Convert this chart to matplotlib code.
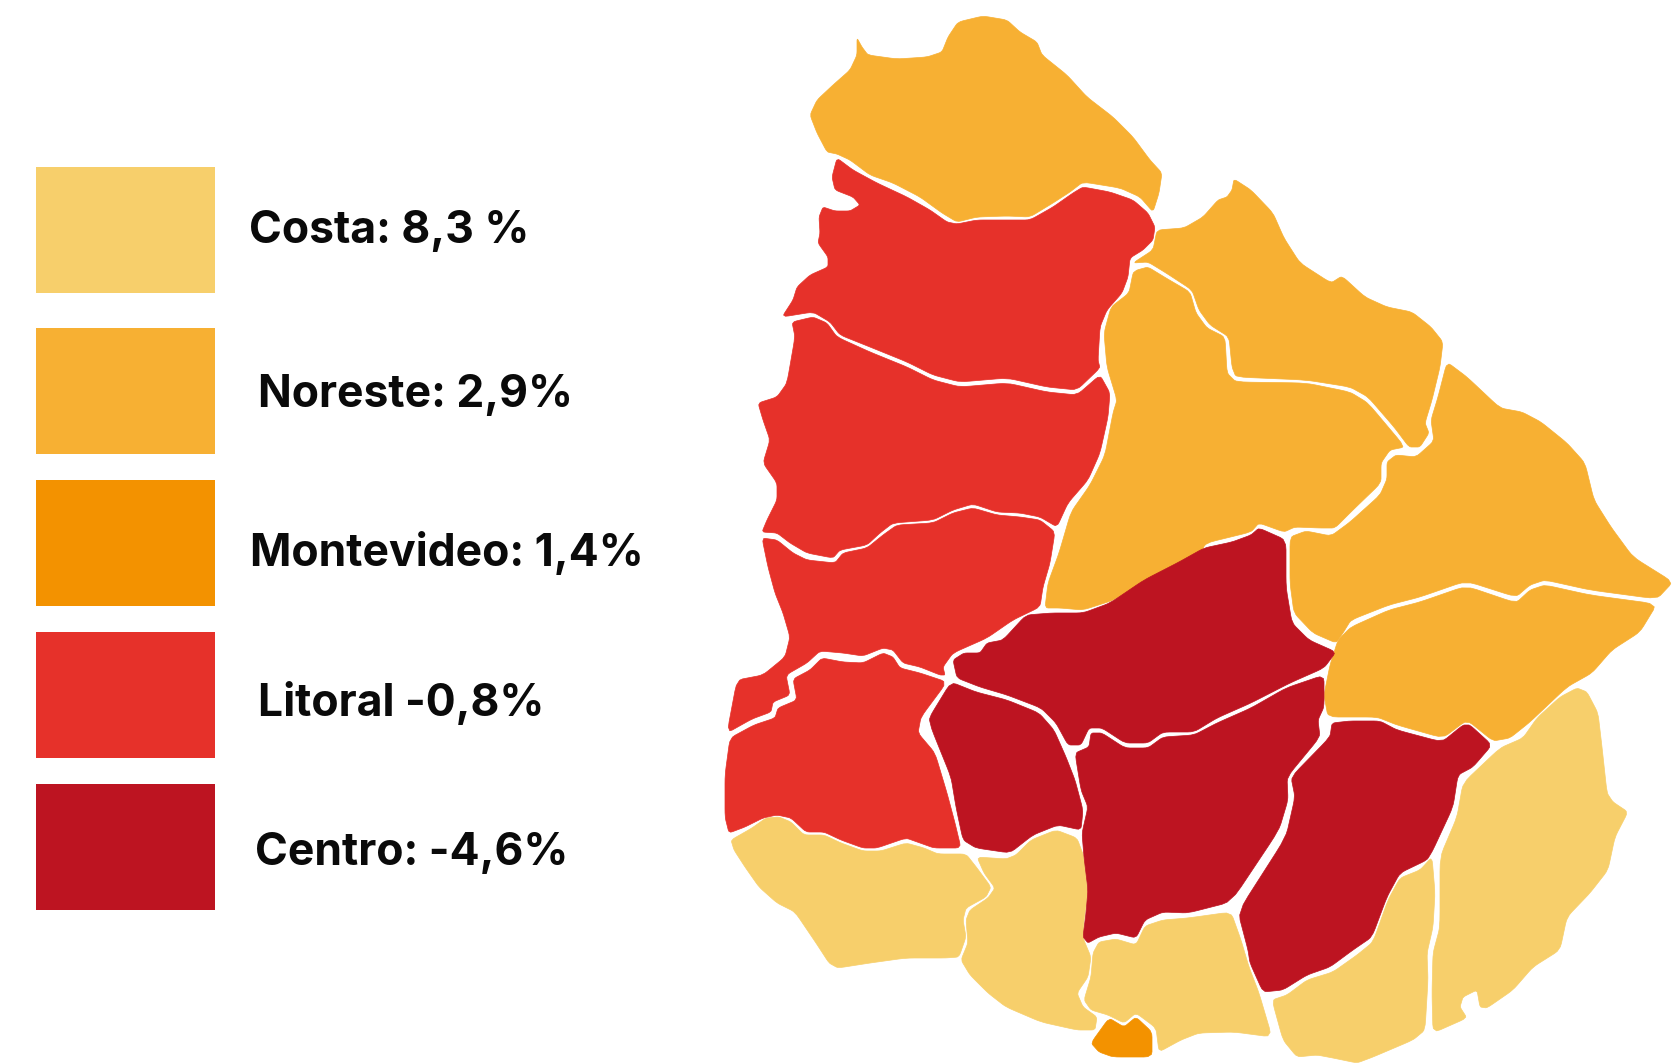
# Crecimiento por region de Uruguay: mapa de departamentos y leyenda
import matplotlib
matplotlib.use("Agg")
import matplotlib.pyplot as plt

# DATOS
etiquetas = ["Costa: 8,3 %", "Noreste: 2,9%", "Montevideo: 1,4%", "Litoral -0,8%", "Centro: -4,6%"]
colores = ["#F7CF6B", "#F7B033", "#F39200", "#E6312A", "#BD1421"]

# Contornos, en pixeles
artigas = [(857,38),(862,47),(868,55),(897,59),(927,57),(942,52),(948,37),(958,22),(983,16),(1007,20),(1020,32),(1037,42),(1042,55),(1067,75),(1087,97),(1113,117),(1133,137),(1150,160),(1162,173),(1159,193),(1153,212),(1140,197),(1120,188),(1083,182),(1070,192),(1053,203),(1030,217),(1007,216),(977,217),(957,222),(942,213),(920,197),(893,183),(870,175),(850,160),(837,154),(827,152),(817,133),(810,115),(817,100),(833,85),(850,70),(857,55)]
salto = [(837,158),(853,170),(877,183),(907,197),(930,210),(947,222),(957,224),(977,220),(1007,220),(1030,220),(1053,207),(1073,193),(1083,187),(1110,192),(1133,200),(1148,213),(1155,227),(1153,240),(1143,250),(1130,258),(1128,277),(1122,293),(1107,310),(1100,327),(1098,360),(1100,368),(1077,390),(1047,387),(1007,378),(960,382),(933,375),(907,362),(870,347),(840,335),(830,322),(813,312),(782,317),(793,300),(797,287),(810,275),(828,267),(828,257),(818,243),(820,233),(819,217),(823,207),(835,211),(850,211),(860,205),(853,197),(835,190),(832,177)]
paysandu = [(792,322),(813,317),(827,323),(837,337),(870,352),(907,367),(933,380),(960,387),(1007,383),(1047,392),(1077,395),(1100,375),(1110,393),(1108,417),(1100,453),(1088,480),(1068,503),(1057,527),(1040,517),(1020,513),(997,512),(973,504),(953,510),(933,520),(893,523),(880,533),(867,545),(840,550),(833,558),(807,553),(790,543),(777,533),(762,532),(767,520),(777,500),(777,483),(763,463),(770,440),(763,420),(758,403),(777,397),(787,383),(795,337)]
rio_negro = [(762,538),(777,540),(793,553),(807,560),(835,563),(843,553),(867,548),(883,535),(897,525),(933,523),(953,513),(973,508),(997,515),(1020,517),(1040,520),(1055,532),(1050,563),(1043,587),(1040,607),(1013,620),(987,638),(953,653),(943,667),(945,675),(940,675),(920,667),(903,663),(893,650),(883,648),(863,656),(843,653),(820,651),(807,663),(786,675),(790,695),(773,702),(771,712),(752,719),(727,733),(737,680),(763,675),(785,657),(790,637),(783,613),(775,593),(768,567)]
soriano = [(730,738),(754,725),(775,718),(778,708),(797,700),(793,679),(810,670),(822,658),(843,662),(863,663),(883,653),(893,657),(900,668),(920,673),(947,682),(921,717),(918,733),(935,753),(947,793),(955,823),(961,848),(934,848),(920,843),(906,838),(877,848),(863,848),(841,840),(824,832),(806,832),(791,818),(777,815),(763,818),(745,827),(729,833),(725,817),(725,775)]
colonia = [(731,840),(752,828),(766,818),(779,817),(791,822),(804,835),(824,835),(841,843),(863,851),(881,851),(906,843),(924,848),(938,854),(966,854),(977,868),(991,887),(986,897),(966,908),(963,920),(966,937),(959,957),(945,958),(906,958),(870,963),(838,968),(829,963),(816,943),(795,912),(777,903),(759,887),(745,867),(734,850)]
san_jose = [(977,857),(1006,859),(1016,855),(1031,840),(1056,830),(1077,838),(1084,857),(1088,893),(1084,920),(1083,938),(1091,957),(1088,977),(1077,993),(1083,1007),(1097,1017),(1095,1030),(1077,1030),(1041,1022),(1006,1007),(988,993),(970,975),(961,960),(968,943),(966,920),(970,910),(988,898),(995,888),(984,873)]
montevideo = [(1109,1018),(1124,1027),(1136,1017),(1152,1032),(1152,1057),(1113,1057),(1099,1052),(1091,1043)]
canelones = [(1099,942),(1116,939),(1136,945),(1145,926),(1163,920),(1188,918),(1231,912),(1241,940),(1249,967),(1259,993),(1272,1037),(1234,1032),(1199,1033),(1181,1040),(1159,1052),(1156,1028),(1136,1013),(1124,1023),(1108,1015),(1091,1010),(1084,1000),(1091,977),(1093,953)]
flores = [(951,682),(976,692),(1007,700),(1039,713),(1054,730),(1066,757),(1075,780),(1083,810),(1081,830),(1058,825),(1033,835),(1010,853),(976,848),(963,840),(956,807),(951,777),(932,730),(929,718)]
florida = [(1075,753),(1089,747),(1091,733),(1102,733),(1125,748),(1148,748),(1163,737),(1194,735),(1217,723),(1251,708),(1286,688),(1324,675),(1324,707),(1318,720),(1320,737),(1287,777),(1288,800),(1279,830),(1231,902),(1188,913),(1163,912),(1145,920),(1136,938),(1116,933),(1099,937),(1088,943),(1083,937),(1086,913),(1088,890),(1084,857),(1082,833),(1088,807),(1081,790)]
durazno = [(953,660),(964,653),(980,653),(987,643),(1003,640),(1026,615),(1052,613),(1083,613),(1110,603),(1144,580),(1179,562),(1204,548),(1232,542),(1251,535),(1259,528),(1286,540),(1286,587),(1292,623),(1309,640),(1336,652),(1324,668),(1290,683),(1251,703),(1217,718),(1194,732),(1163,732),(1148,743),(1125,743),(1102,728),(1089,728),(1081,745),(1068,745),(1056,723),(1041,708),(1007,695),(980,687),(957,678)]
lavalleja = [(1332,723),(1350,721),(1380,721),(1397,730),(1442,742),(1463,725),(1470,725),(1492,745),(1473,767),(1458,775),(1453,807),(1433,850),(1427,860),(1400,873),(1387,897),(1372,937),(1353,950),(1330,967),(1307,975),(1283,990),(1263,992),(1250,963),(1248,950),(1238,912),(1286,837),(1295,797),(1291,777),(1330,737)]
maldonado = [(1432,857),(1435,893),(1433,927),(1427,953),(1428,980),(1425,1030),(1413,1040),(1373,1057),(1357,1063),(1333,1058),(1317,1055),(1297,1057),(1283,1040),(1272,1000),(1287,995),(1307,980),(1333,972),(1357,955),(1373,942),(1388,900),(1400,878),(1420,870)]
rocha = [(1463,783),(1500,748),(1523,738),(1537,718),(1560,697),(1577,688),(1587,692),(1598,713),(1602,747),(1607,793),(1613,802),(1628,812),(1615,837),(1608,870),(1590,893),(1567,917),(1560,950),(1533,967),(1513,990),(1487,1008),(1480,1007),(1477,990),(1463,997),(1460,1007),(1467,1018),(1433,1033),(1432,993),(1433,953),(1440,927),(1440,857),(1457,817)]
treinta_y_tres = [(1330,665),(1338,640),(1351,627),(1389,610),(1420,602),(1466,586),(1516,603),(1530,590),(1545,585),(1590,595),(1657,604),(1640,632),(1612,650),(1592,673),(1567,687),(1530,722),(1510,738),(1493,741),(1467,720),(1443,738),(1397,725),(1377,717),(1328,717),(1324,695)]
cerro_largo = [(1447,362),(1467,377),(1500,408),(1522,412),(1541,422),(1567,443),(1585,463),(1594,500),(1611,527),(1633,557),(1673,582),(1657,599),(1590,590),(1545,580),(1530,585),(1516,597),(1466,581),(1420,597),(1389,605),(1351,620),(1343,633),(1336,643),(1313,633),(1294,613),(1290,583),(1290,537),(1306,531),(1331,536),(1350,522),(1380,495),(1387,479),(1387,462),(1396,455),(1416,457),(1434,441),(1431,420),(1438,397)]
rivera = [(1234,179),(1251,190),(1273,213),(1284,238),(1300,263),(1331,283),(1342,276),(1365,297),(1387,307),(1412,312),(1431,327),(1443,342),(1440,367),(1432,400),(1425,423),(1429,433),(1420,447),(1409,447),(1394,427),(1368,397),(1350,387),(1306,380),(1236,377),(1232,367),(1229,337),(1210,325),(1199,310),(1192,290),(1166,273),(1148,262),(1133,263),(1153,250),(1157,230),(1184,228),(1203,217),(1218,200),(1227,197),(1232,190)]
tacuarembo = [(1137,270),(1148,267),(1166,278),(1190,292),(1196,313),(1207,328),(1225,337),(1227,373),(1236,382),(1306,383),(1350,392),(1368,403),(1405,447),(1390,450),(1381,463),(1381,483),(1353,510),(1335,528),(1320,528),(1295,527),(1284,532),(1259,523),(1251,532),(1206,543),(1198,557),(1156,575),(1114,600),(1083,610),(1060,608),(1045,608),(1048,583),(1059,553),(1071,512),(1090,485),(1105,455),(1113,413),(1117,400),(1107,367),(1104,333),(1111,307),(1129,293),(1133,273)]

costa = [colonia, san_jose, canelones, maldonado, rocha]
noreste = [artigas, rivera, tacuarembo, cerro_largo, treinta_y_tres]
capital = [montevideo]
litoral = [salto, paysandu, rio_negro, soriano]
centro = [durazno, flores, florida, lavalleja]
regiones = [costa, noreste, capital, litoral, centro]

# Leyenda
caja_x = 36
caja_ancho = 179
caja_alto = 126
caja_y = [167, 328, 480, 632, 784]
texto_x = [249, 258, 250, 258, 255]
texto_y = [231, 395, 553, 703, 853]


def suavizar(puntos, pasos=2):
    # Redondea apenas las esquinas del contorno cortando cada vertice
    for _ in range(pasos):
        nuevos = []
        for i in range(len(puntos)):
            x0, y0 = puntos[i]
            x1, y1 = puntos[(i + 1) % len(puntos)]
            nuevos.append((0.88 * x0 + 0.12 * x1, 0.88 * y0 + 0.12 * y1))
            nuevos.append((0.12 * x0 + 0.88 * x1, 0.12 * y0 + 0.88 * y1))
        puntos = nuevos
    return puntos


plt.rcParams['font.family'] = ['Inter', 'DejaVu Sans']

fig = plt.figure(figsize=(16.76, 10.64), dpi=100)
ax = fig.add_axes([0, 0, 1, 1])
ax.set_xlim(0, 1676)
ax.set_ylim(1064, 0)
ax.axis('off')

# Mapa: los huecos blancos entre departamentos salen del propio contorno
for region, color in zip(regiones, colores):
    for depto in region:
        xs, ys = zip(*suavizar(depto))
        ax.fill(xs, ys, facecolor=color, edgecolor=color, linewidth=0.5, joinstyle='round')

# Cajas y textos
for i, etiqueta in enumerate(etiquetas):
    ax.add_patch(plt.Rectangle((caja_x, caja_y[i]), caja_ancho, caja_alto, facecolor=colores[i], edgecolor='none'))
    ax.text(texto_x[i], texto_y[i], etiqueta, fontsize=32, fontweight='bold', color='#0A0A0A', ha='left', va='center')

plt.savefig('out.png', dpi=100)
plt.close()
